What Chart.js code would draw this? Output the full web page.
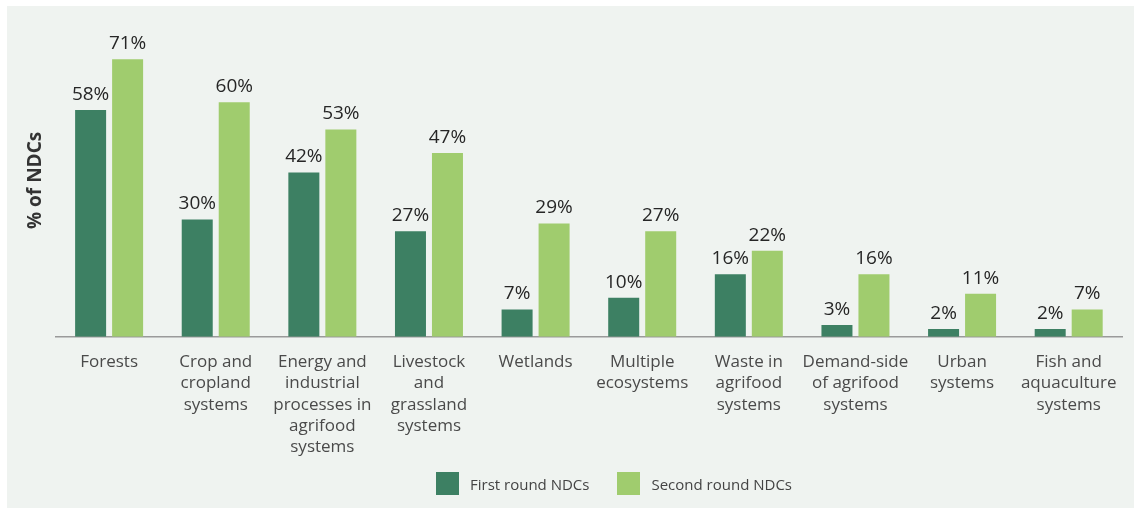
<!DOCTYPE html>
<html>
<head>
<meta charset="utf-8">
<script src="https://cdn.jsdelivr.net/npm/chart.js@4.4.0/dist/chart.umd.min.js"></script>
<style>
  body { margin: 0; background: #ffffff; }
  #panel { position: absolute; left: 7px; top: 6px; width: 1127px; height: 502px; background: #eff3f0; }
  #wrap { position: absolute; left: 0; top: 0; width: 1127px; height: 502px; }
  #legend { position: absolute; left: 429px; top: 466px; display: flex; align-items: center;
            font-family: "Open Sans", sans-serif; font-size: 15px; color: #444; }
  #legend .item { display: flex; align-items: center; margin-right: 28px; }
  #legend .box { width: 23px; height: 23px; margin-right: 11px; }
</style>
</head>
<body>
<div id="panel">
  <div id="wrap"><canvas id="ndcChart"></canvas></div>
  <div id="legend"></div>
</div>
<script>
var categories = [
  ["Forests"],
  ["Crop and", "cropland", "systems"],
  ["Energy and", "industrial", "processes in", "agrifood", "systems"],
  ["Livestock", "and", "grassland", "systems"],
  ["Wetlands"],
  ["Multiple", "ecosystems"],
  ["Waste in", "agrifood", "systems"],
  ["Demand-side", "of agrifood", "systems"],
  ["Urban", "systems"],
  ["Fish and", "aquaculture", "systems"]
];
var firstRound = [58, 30, 42, 27, 7, 10, 16, 3, 2, 2];
var secondRound = [71, 60, 53, 47, 29, 27, 22, 16, 11, 7];
var seriesNames = ["First round NDCs", "Second round NDCs"];
var seriesColors = ["#3d8063", "#a0cc6e"];

// draws the % value above every bar
var valueLabels = {
  id: "valueLabels",
  afterDatasetsDraw: function(chart) {
    var ctx = chart.ctx;
    ctx.save();
    ctx.font = "19px 'Open Sans', sans-serif";
    ctx.fillStyle = "#262626";
    ctx.textAlign = "center";
    ctx.textBaseline = "bottom";
    chart.data.datasets.forEach(function(ds, i) {
      chart.getDatasetMeta(i).data.forEach(function(bar, j) {
        ctx.fillText(ds.data[j] + "%", bar.x, bar.y - 6);
      });
    });
    ctx.restore();
  }
};

var chart = new Chart("ndcChart", {
  type: "bar",
  data: {
    labels: categories,
    datasets: [{
      label: seriesNames[0],
      data: firstRound,
      backgroundColor: seriesColors[0],
      categoryPercentage: 0.694,
      barPercentage: 0.838
    }, {
      label: seriesNames[1],
      data: secondRound,
      backgroundColor: seriesColors[1],
      categoryPercentage: 0.694,
      barPercentage: 0.838
    }]
  },
  options: {
    responsive: true,
    maintainAspectRatio: false,
    animation: false,
    layout: {padding: {left: 8, right: 12, top: 18, bottom: 35}},
    plugins: {
      legend: {display: false},
      tooltip: {enabled: false}
    },
    scales: {
      x: {
        grid: {display: false, drawTicks: false},
        border: {display: true, color: "#9a9a9a", width: 1.5},
        ticks: {
          autoSkip: false,
          maxRotation: 0,
          padding: 15,
          color: "#4a4a4a",
          font: {family: "'Open Sans', sans-serif", size: 17, lineHeight: 1.25}
        }
      },
      y: {
        min: 0,
        max: 80,
        grid: {display: false, drawTicks: false},
        border: {display: false},
        ticks: {display: false},
        title: {
          display: true,
          text: "% of NDCs",
          color: "#333333",
          padding: {top: 9, bottom: 9},
          font: {family: "'Open Sans', sans-serif", size: 19, weight: "bold", lineHeight: 1.2}
        }
      }
    }
  },
  plugins: [valueLabels]
});

// html legend built from the datasets
var legendEl = document.getElementById("legend");
chart.data.datasets.forEach(function(ds) {
  var item = document.createElement("div");
  item.className = "item";
  var box = document.createElement("span");
  box.className = "box";
  box.style.background = ds.backgroundColor;
  var txt = document.createElement("span");
  txt.textContent = ds.label;
  item.appendChild(box);
  item.appendChild(txt);
  legendEl.appendChild(item);
});
</script>
</body>
</html>
